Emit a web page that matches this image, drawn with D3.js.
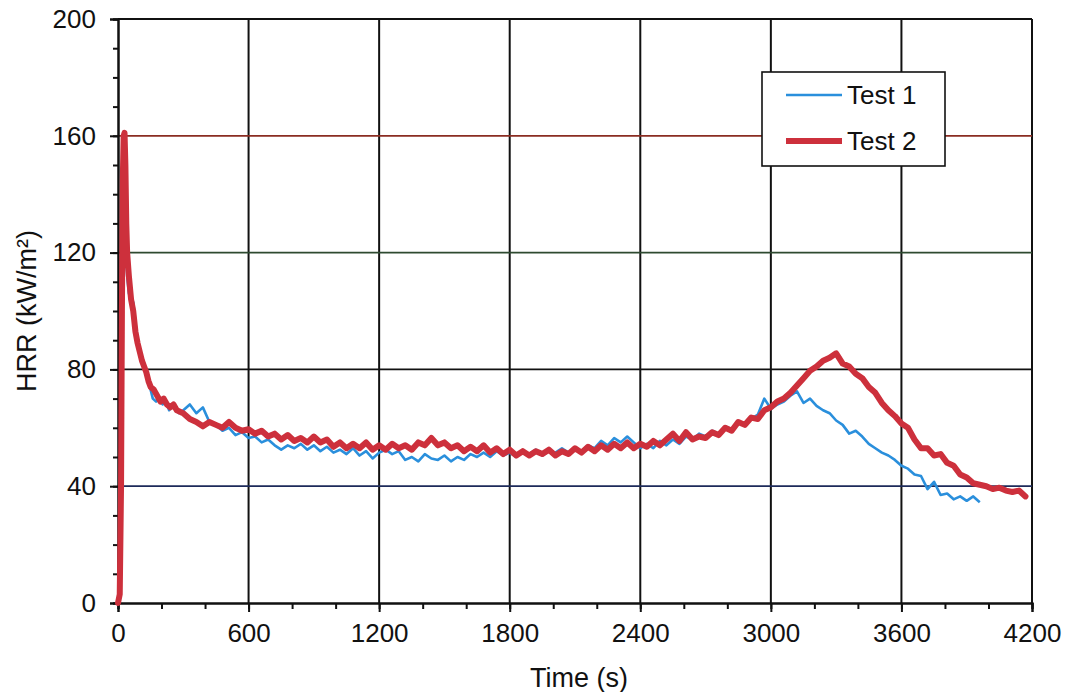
<!DOCTYPE html>
<html>
<head>
<meta charset="utf-8">
<script src="https://cdn.jsdelivr.net/npm/d3@7"></script>
<style>
  body { margin: 0; background: #fff; }
  text { font-family: "Liberation Sans", Arial, sans-serif; fill: #111; }
</style>
</head>
<body>
<div id="root"></div>
<script>
// ---- data ----
const seriesNames = ["Test 1", "Test 2"];
const xTicks = [0, 600, 1200, 1800, 2400, 3000, 3600, 4200];
const yTicks = [0, 40, 80, 120, 160, 200];

// ignition spike, uneven time steps
const test1EarlyTime = [0, 8, 14, 18, 22, 26, 30, 34, 38, 42, 50, 60, 70, 80, 90, 100, 110, 120, 130, 140, 150, 160, 175, 190, 205, 220, 235, 250, 265, 280];
const test1EarlyHRR  = [0, 2, 35, 95, 140, 152, 150, 138, 122, 112, 106, 104, 103, 96, 90, 86, 84, 82, 79, 77, 73, 70, 69, 70, 68, 69, 66, 68, 67, 65];
const test2EarlyTime = [0, 8, 14, 18, 22, 26, 30, 34, 38, 42, 50, 60, 70, 80, 90, 100, 110, 120, 130, 140, 150, 165, 180, 195, 210, 225, 240, 255, 270];
const test2EarlyHRR  = [0, 3, 40, 100, 145, 160, 161, 150, 130, 120, 112, 104, 100, 93, 89, 86, 83, 81, 79, 76, 74, 73, 71, 69, 70, 68, 67, 68, 66];

// after 300 s, one reading every 30 s
const sampleStart = 300, sampleStep = 30;
const test1HRR = [
  66, 68, 65, 67, 62, 61, 59, 60, 57.5, 58.5, 56.5, 57, 55, 56, 54, 52.5, 54, 53, 54.5, 52.5,
  54, 52, 53.5, 51.5, 52.5, 51, 53, 50.5, 52, 49.5, 51.5, 52.5, 51, 52, 49, 50, 48.5, 51, 49.5, 49,
  50.5, 48.5, 50, 49, 51, 50, 51.5, 50, 52, 50.5, 51.5, 50, 52, 51, 52.5, 50.5, 52, 51.5, 53, 51.5,
  53, 52, 54, 53, 55.5, 54, 56.5, 55, 57, 55, 53, 54.5, 53, 55.5, 54, 56, 54.5, 57, 56, 58,
  57, 59, 58, 60.5, 59.5, 61.5, 61, 63, 64.5, 70, 66.5, 68, 69, 71, 72.5, 68.5, 70, 67.5, 66, 65,
  62.5, 61, 58, 59, 57, 54.5, 53, 51.5, 50.5, 49, 47, 46, 44, 43.5, 39, 41.5, 37, 37.5, 35.5, 36.5,
  35, 36.5, 34.5
];
const test2HRR = [
  65, 63, 62, 60.5, 62, 61, 60, 62, 60, 59, 59.5, 58, 59, 57, 58, 56, 57.5, 55.5, 56.5, 55,
  57, 55, 56, 53.5, 55, 53, 54.5, 53, 55, 52.5, 54, 52.5, 54.5, 53, 54, 52.5, 55, 54, 56.5, 54,
  55, 53, 54, 52, 53.5, 52, 54, 51.5, 53, 51, 52.5, 50.5, 52, 50.5, 52, 51, 52.5, 50.5, 52, 51,
  53, 51.5, 53.5, 52, 54, 52.5, 54.5, 53, 55, 53, 54.5, 53.5, 55.5, 54, 56, 58, 55.5, 58.5, 56, 57,
  56.5, 58.5, 57.5, 60, 59, 62, 61, 63.5, 63, 66, 67, 69, 70, 72, 74.5, 77, 79.5, 81, 83, 84,
  85.5, 82, 81, 78.5, 77, 74, 72, 68.5, 66, 64, 61.5, 60, 56, 53, 53, 50.5, 51, 48, 47, 44,
  43, 41, 40.5, 40, 39, 39.5, 38.5, 38, 38.5, 36.5
];

// gridline colours as they came out on the scan
const hGridColors = {0: "#111", 40: "#1d2a5a", 80: "#111", 120: "#2e4a30", 160: "#8a2c22", 200: "#111"};
const seriesColors = ["#2a8fdc", "#cd303c"];

// ---- layout ----
const margin = {top: 19, right: 36, bottom: 89, left: 118},
    width = 1068 - margin.left - margin.right,
    height = 692 - margin.top - margin.bottom;

const x = d3.scaleLinear().domain([0, 4200]).range([0, width]);
const y = d3.scaleLinear().domain([0, 200]).range([height, 0]);

function buildSeries(t0, v0, vals) {
  let pts = t0.map((t, i) => ({t: t, v: v0[i]}));
  vals.forEach((v, i) => pts.push({t: sampleStart + i * sampleStep, v: v}));
  return pts;
}
const series = [
  buildSeries(test1EarlyTime, test1EarlyHRR, test1HRR),
  buildSeries(test2EarlyTime, test2EarlyHRR, test2HRR)
];

const svg = d3.select("#root").append("svg")
    .attr("width", 1068)
    .attr("height", 692)
  .append("g")
    .attr("transform", "translate(" + margin.left + "," + margin.top + ")");

// grid
svg.selectAll(".vgrid")
  .data(xTicks.slice(1))
  .enter().append("line")
    .attr("x1", d => x(d)).attr("x2", d => x(d))
    .attr("y1", 0).attr("y2", height)
    .attr("stroke", "#111").attr("stroke-width", 2);

svg.selectAll(".hgrid")
  .data(yTicks.slice(1))
  .enter().append("line")
    .attr("x1", 0).attr("x2", width)
    .attr("y1", d => y(d)).attr("y2", d => y(d))
    .attr("stroke", d => hGridColors[d]).attr("stroke-width", 1.8);

// axes: major + minor ticks
const fmt = d3.format("d");
const yAxisMinor = d3.axisLeft(y).tickValues(d3.range(0, 201, 10)).tickSize(5).tickFormat("");
const yAxis = d3.axisLeft(y).tickValues(yTicks).tickSize(8).tickPadding(14).tickFormat(fmt);
const xAxisMinor = d3.axisBottom(x).tickValues(d3.range(0, 4201, 200)).tickSize(6).tickFormat("");
const xAxis = d3.axisBottom(x).tickValues(xTicks).tickSize(9).tickPadding(12).tickFormat(fmt);

function styleAxis(g) {
  g.select(".domain").attr("stroke", "#111").attr("stroke-width", 2);
  g.selectAll(".tick line").attr("stroke", "#111").attr("stroke-width", 2);
  g.selectAll(".tick text").style("font-size", "26px").style("font-family", "'Liberation Sans', Arial, sans-serif").attr("fill", "#111");
}

svg.append("g").call(yAxisMinor).call(styleAxis);
svg.append("g").call(yAxis).call(styleAxis);
svg.append("g").attr("transform", "translate(0," + height + ")").call(xAxisMinor).call(styleAxis);
svg.append("g").attr("transform", "translate(0," + height + ")").call(xAxis).call(styleAxis);

// lines
const line = d3.line()
  .x(d => x(d.t))
  .y(d => y(d.v));

svg.append("path")
  .datum(series[0])
  .attr("d", line)
  .attr("fill", "none")
  .attr("stroke", seriesColors[0])
  .attr("stroke-width", 2.6)
  .attr("stroke-linejoin", "round");

svg.append("path")
  .datum(series[1])
  .attr("d", line)
  .attr("fill", "none")
  .attr("stroke", seriesColors[1])
  .attr("stroke-width", 6)
  .attr("stroke-linejoin", "round")
  .attr("stroke-linecap", "round");

// axis titles
svg.append("text")
  .attr("x", x(2100) + 4)
  .attr("y", height + 84)
  .attr("text-anchor", "middle")
  .style("font-size", "27px")
  .text("Time (s)");

svg.append("text")
  .attr("transform", "translate(-82," + (311 - margin.top) + ")rotate(-90)")
  .attr("text-anchor", "middle")
  .style("font-size", "27px")
  .text("HRR (kW/m²)");

// legend
const legend = svg.append("g").attr("transform", "translate(" + (762 - margin.left) + "," + (72 - margin.top) + ")");
legend.append("rect")
  .attr("width", 183).attr("height", 94)
  .attr("fill", "#fff").attr("stroke", "#111").attr("stroke-width", 1.6);

seriesNames.forEach((name, i) => {
  const ly = 23 + i * 46;
  legend.append("line")
    .attr("x1", 24).attr("x2", 80)
    .attr("y1", ly).attr("y2", ly)
    .attr("stroke", seriesColors[i])
    .attr("stroke-width", i === 0 ? 2.6 : 6);
  legend.append("text")
    .attr("x", 85).attr("y", ly)
    .attr("dy", "0.36em")
    .style("font-size", "26px")
    .text(name);
});
</script>
</body>
</html>
